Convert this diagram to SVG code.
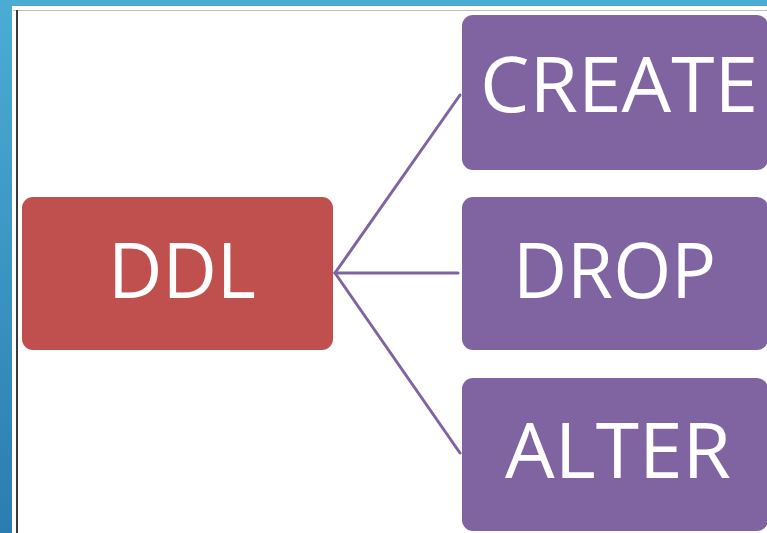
<svg xmlns="http://www.w3.org/2000/svg" width="767" height="533" viewBox="0 0 767 533">
  <defs>
    <linearGradient id="frame" x1="0" y1="0" x2="0" y2="1">
      <stop offset="0" stop-color="#4badd3"/>
      <stop offset="1" stop-color="#2a7db0"/>
    </linearGradient>
  </defs>
  <style>
    .root { fill: #c0504d; }
    .leaf { fill: #8064a2; }
    .label { fill: #ffffff; font-family: "Open Sans", "Liberation Sans", sans-serif; font-size: 76px; text-anchor: middle; }
    .link { stroke: #8064a2; stroke-width: 3; fill: none; stroke-linecap: round; }
  </style>

  <!-- window frame -->
  <rect x="0" y="0" width="767" height="533" fill="url(#frame)"/>
  <rect x="12" y="6" width="755" height="527" fill="#ffffff"/>
  <rect x="13" y="10" width="754" height="1" fill="#bdbdbd"/>
  <rect x="16" y="10" width="2" height="523" fill="#3a3a3a"/>

  <!-- connectors -->
  <g id="connectors">
    <line class="link" x1="335" y1="273" x2="460" y2="95"/>
    <line class="link" x1="335" y1="273" x2="458" y2="273"/>
    <line class="link" x1="335" y1="273" x2="460" y2="453"/>
  </g>

  <g id="ddl">
    <rect class="root" x="22" y="197" width="311" height="153" rx="11"/>
    <text class="label" x="182" y="298" textLength="148" lengthAdjust="spacingAndGlyphs">DDL</text>
  </g>

  <g id="create">
    <rect class="leaf" x="462" y="15" width="306" height="155" rx="11"/>
    <text class="label" x="619" y="112" textLength="278" lengthAdjust="spacingAndGlyphs">CREATE</text>
  </g>

  <g id="drop">
    <rect class="leaf" x="462" y="197" width="306" height="153" rx="11"/>
    <text class="label" x="614.5" y="298" textLength="203" lengthAdjust="spacingAndGlyphs">DROP</text>
  </g>

  <g id="alter">
    <rect class="leaf" x="462" y="378" width="306" height="153" rx="11"/>
    <text class="label" x="618" y="478" textLength="226" lengthAdjust="spacingAndGlyphs">ALTER</text>
  </g>
</svg>
